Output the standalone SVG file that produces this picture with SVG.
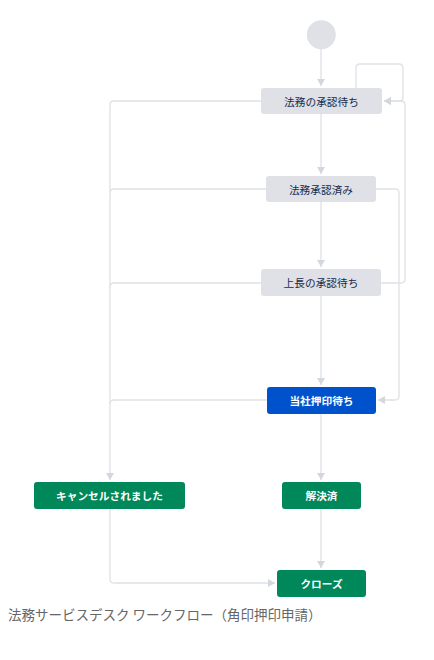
<svg xmlns="http://www.w3.org/2000/svg" width="434" height="660" viewBox="0 0 434 660">
<style>
.c{fill:none;stroke:#DFE1E6;stroke-width:1.3}
.g rect{fill:#DFE1E6}
.g text{fill:#172B4D;font-size:10.7px}
.b rect{fill:#0052CC}
.s rect{fill:#00875A}
.b text,.s text{fill:#FFFFFF;font-size:10.7px;font-weight:bold}
text{font-family:"Noto Sans CJK JP","Noto Sans",sans-serif;text-anchor:middle;dominant-baseline:central}
.cap{font-size:13.5px;fill:#666666;text-anchor:start;dominant-baseline:alphabetic}
</style>
<defs>
<marker id="a" markerUnits="userSpaceOnUse" markerWidth="10" markerHeight="10" refX="7" refY="4" orient="auto">
<path d="M0 0 L7 4 L0 8 Z" fill="#D3D7DE"/>
</marker>
</defs>
<rect width="434" height="660" fill="#FFFFFF"/>
<g id="connectors">
<path class="c" d="M321 49 V86" marker-end="url(#a)"/>
<path class="c" d="M321 114 V174" marker-end="url(#a)"/>
<path class="c" d="M321 202 V267" marker-end="url(#a)"/>
<path class="c" d="M321 296 V385" marker-end="url(#a)"/>
<path class="c" d="M321 414 V480" marker-end="url(#a)"/>
<path class="c" d="M321 509 V568" marker-end="url(#a)"/>
<path class="c" d="M356 88 V68 Q356 64 360 64 H399 Q403 64 403 68 V97 Q403 101 399 101 H384" marker-end="url(#a)"/>
<path class="c" d="M381 283 H401 Q405 283 405 279 V105 Q405 101 401 101 H384" marker-end="url(#a)"/>
<path class="c" d="M376 189 H395 Q399 189 399 193 V396 Q399 400 395 400 H378" marker-end="url(#a)"/>
<path class="c" d="M261 101 H114 Q110 101 110 105 V480" marker-end="url(#a)"/>
<path class="c" d="M266 189 H114 Q110 189 110 193"/>
<path class="c" d="M261 283 H114 Q110 283 110 287"/>
<path class="c" d="M267 400 H114 Q110 400 110 404"/>
<path class="c" d="M110 509 V579 Q110 583 114 583 H275" marker-end="url(#a)"/>
</g>
<g id="start"><circle cx="321.3" cy="34.7" r="14.5" fill="#DFE1E6"/></g>
<g id="n1" class="g"><rect x="261" y="88" width="121" height="26" rx="3"/><text x="321.5" y="101">法務の承認待ち</text></g>
<g id="n2" class="g"><rect x="266" y="176" width="110" height="26" rx="3"/><text x="321" y="189">法務承認済み</text></g>
<g id="n3" class="g"><rect x="261" y="269" width="120" height="27" rx="3"/><text x="321" y="282.5">上長の承認待ち</text></g>
<g id="n4" class="b"><rect x="267" y="387" width="109" height="27" rx="3"/><text x="321.5" y="400.5">当社押印待ち</text></g>
<g id="n5" class="s"><rect x="34" y="482" width="151" height="27" rx="3"/><text x="109.5" y="495.5">キャンセルされました</text></g>
<g id="n6" class="s"><rect x="282" y="482" width="79" height="27" rx="3"/><text x="321.5" y="495.5">解決済</text></g>
<g id="n7" class="s"><rect x="277" y="570" width="89" height="27" rx="3"/><text x="321.5" y="583.5">クローズ</text></g>
<g id="caption"><text class="cap" x="8" y="620">法務サービスデスク ワークフロー（角印押印申請）</text></g>
</svg>
